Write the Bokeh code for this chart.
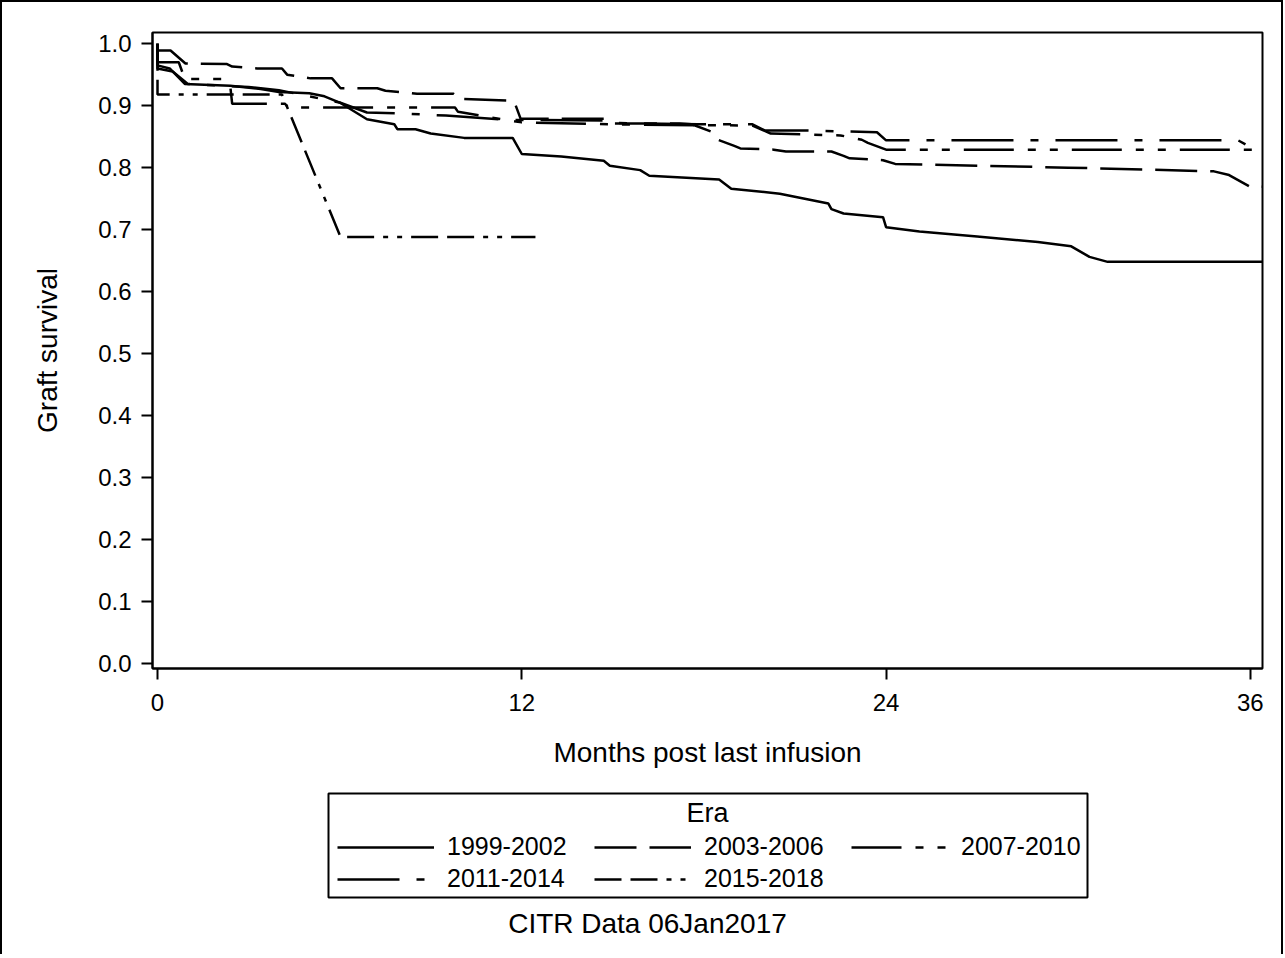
from bokeh.plotting import figure
from bokeh.layouts import column
from bokeh.models import (Legend, LegendItem, Label, Range1d, FixedTicker, PrintfTickFormatter,
                          BoxAnnotation)
from bokeh.embed import file_html
from bokeh.resources import INLINE

# ---- data ----
eras = ["1999-2002", "2003-2006", "2007-2010", "2011-2014", "2015-2018"]

months_1999 = [0, 0, 0.4, 0.9, 2.4, 3.4, 4.0, 5.0, 5.5, 6.0, 6.9, 7.8, 7.9, 8.5, 9.0, 10.1, 11.7, 12.0, 13.3, 14.7,
               14.9, 15.9, 16.2, 18.5, 18.9, 20.5, 22.1, 22.2, 22.6, 23.9, 24.0, 25.1, 27.0, 29.0, 30.1, 30.7, 31.3, 36.4]
surv_1999 = [1.0, 0.965, 0.96, 0.935, 0.932, 0.927, 0.922, 0.920, 0.915, 0.905, 0.878, 0.870, 0.862, 0.862, 0.855, 0.848,
             0.848, 0.822, 0.818, 0.811, 0.803, 0.796, 0.787, 0.781, 0.766, 0.758, 0.742, 0.733, 0.726, 0.720, 0.704,
             0.697, 0.689, 0.680, 0.673, 0.656, 0.648, 0.648]

months_2003 = [0, 0, 0.43, 0.92, 2.29, 2.46, 3.28, 4.1, 4.27, 5.04, 5.75, 6.03, 7.24, 7.51, 8.55, 9.76, 9.87, 11.74,
               11.96, 14.8, 15.0, 17.2, 17.6, 18.3, 18.4, 19.0, 19.2, 20.3, 20.7, 22.2, 22.6, 22.8, 23.9, 24.3, 30.0,
               34.8, 35.3, 36.0, 36.4]
surv_2003 = [1.0, 0.989, 0.989, 0.968, 0.967, 0.963, 0.960, 0.960, 0.950, 0.944, 0.944, 0.928, 0.928, 0.924, 0.919,
             0.919, 0.911, 0.908, 0.879, 0.879, 0.871, 0.871, 0.870, 0.857, 0.846, 0.835, 0.831, 0.829, 0.826, 0.826,
             0.819, 0.815, 0.812, 0.806, 0.800, 0.794, 0.788, 0.769, 0.769]

months_2007 = [0, 0, 0.7, 0.9, 2.13, 2.4, 2.46, 4.2, 4.3, 9.8, 9.9, 11.6, 12.0, 16.0, 19.6, 20.2, 22.5, 23.2, 23.4,
               24.0, 36.4]
surv_2007 = [1.0, 0.97, 0.97, 0.943, 0.943, 0.93, 0.903, 0.903, 0.897, 0.897, 0.89, 0.876, 0.873, 0.869, 0.868, 0.855,
             0.852, 0.845, 0.840, 0.829, 0.829]

months_2011 = [0, 0, 0.5, 1.0, 3.0, 4.0, 4.5, 6.0, 6.9, 8.2, 9.5, 11.6, 14.8, 15.0, 17.8, 19.6, 20.0, 21.4, 23.7, 24.0,
               35.6, 35.9, 36.4]
surv_2011 = [1.0, 0.96, 0.955, 0.935, 0.93, 0.925, 0.92, 0.905, 0.889, 0.887, 0.884, 0.877, 0.876, 0.872, 0.870, 0.870,
             0.860, 0.860, 0.857, 0.844, 0.844, 0.836, 0.836]

months_2015 = [0, 0, 4.1, 6.03, 12.45]
surv_2015 = [1.0, 0.918, 0.918, 0.688, 0.688]

x_ticks = [0, 12, 24, 36]
y_ticks = [0.0, 0.1, 0.2, 0.3, 0.4, 0.5, 0.6, 0.7, 0.8, 0.9, 1.0]

legend_title = "Era"
footnote = "CITR Data 06Jan2017"

series = [(months_1999, surv_1999), (months_2003, surv_2003), (months_2007, surv_2007),
          (months_2011, surv_2011), (months_2015, surv_2015)]
dashes = ["solid", "42 13", "50 14 8 14 8 14", "62 17 8 17", "27 9 27 9 5 9 5 9"]

FONT = "Liberation Sans"

# ---------------- main plot ----------------
p = figure(frame_width=1110, frame_height=636,
           min_border_left=150, min_border_right=19, min_border_top=30, min_border_bottom=110,
           x_range=Range1d(-0.165, 36.4), y_range=Range1d(-0.008, 1.018),
           output_backend="svg", toolbar_location=None, background_fill_color="white")

p.xgrid.visible = False
p.ygrid.visible = False
p.outline_line_color = "black"
p.outline_line_width = 2
p.outline_line_alpha = 1

for (mx, sy), dash in zip(series, dashes):
    p.line(mx, sy, line_color="black", line_width=2.5, line_dash=dash)

for ax in (p.xaxis[0], p.yaxis[0]):
    ax.axis_line_width = 2
    ax.axis_line_color = "black"
    ax.major_tick_line_width = 2
    ax.major_tick_line_color = "black"
    ax.major_tick_out = 11
    ax.major_tick_in = 0
    ax.minor_tick_line_color = None
    ax.major_label_text_font = FONT
    ax.major_label_text_font_size = "24px"
    ax.major_label_text_color = "black"
    ax.axis_label_text_font = FONT
    ax.axis_label_text_font_size = "28px"
    ax.axis_label_text_font_style = "normal"
    ax.axis_label_text_color = "black"

p.xaxis.ticker = FixedTicker(ticks=x_ticks)
p.yaxis.ticker = FixedTicker(ticks=y_ticks)
p.yaxis.formatter = PrintfTickFormatter(format="%.1f")
p.xaxis.axis_label = "Months post last infusion"
p.yaxis.axis_label = "Graft survival"
p.xaxis.major_label_standoff = 14
p.yaxis.major_label_standoff = 10
p.xaxis.axis_label_standoff = 23
p.yaxis.axis_label_standoff = 32

# ---------------- legend / footnote panel ----------------
# its frame is aligned with the main frame (page x 152..1262); ranges are page pixels
W2, H2 = 1279, 176
p2 = figure(width=W2, height=H2, min_border=0, min_border_left=0, min_border_right=0,
            min_border_top=0, min_border_bottom=0,
            x_range=Range1d(152, 1262), y_range=Range1d(0, H2),
            x_axis_type=None, y_axis_type=None, output_backend="svg", toolbar_location=None,
            background_fill_color="white", border_fill_color="white")
p2.xgrid.visible = False
p2.ygrid.visible = False
p2.outline_line_color = None

proxies = []
for (mx, sy), dash in zip(series, dashes):
    r = p2.line(mx, sy, line_color="black", line_width=2.5, line_dash=dash)
    r.visible = False
    proxies.append(r)
items = [LegendItem(label=lab, renderers=[r]) for lab, r in zip(eras, proxies)]
legend = Legend(items=items, ncols=3, orientation="horizontal", location=(185, 61),
                border_line_color=None, background_fill_alpha=0,
                inactive_fill_alpha=0,
                padding=6, spacing=3, margin=0,
                glyph_width=97, glyph_height=26, label_standoff=13, label_width=144, label_height=26,
                label_text_font=FONT, label_text_font_size="25px", label_text_color="black")
p2.add_layout(legend, "center")

box = BoxAnnotation(left=328, right=1087, top=161, bottom=57,
                    fill_alpha=0, line_color="black", line_width=2, line_alpha=1)
p2.add_layout(box)

p2.add_layout(Label(x=707, y=142, text=legend_title, text_align="center", text_baseline="middle",
                    text_font=FONT, text_font_size="27px", text_color="black"))
p2.add_layout(Label(x=647, y=31, text=footnote, text_align="center", text_baseline="middle",
                    text_font=FONT, text_font_size="28px", text_color="black"))

layout = column(p, p2, spacing=0,
                styles={"border-left": "2px solid black", "border-top": "2px solid black",
                        "border-right": "2px solid black"})

open("out.html", "w").write(file_html(layout, INLINE))
